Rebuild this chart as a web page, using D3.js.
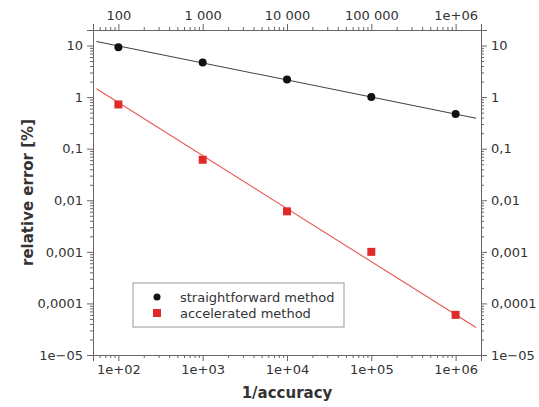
<!DOCTYPE html>
<html>
<head>
<meta charset="utf-8">
<script src="https://cdn.jsdelivr.net/npm/d3@7"></script>
<style>
  body { margin: 0; background: #fff; }
  svg text { font-family: "DejaVu Sans", sans-serif; fill: #333; }
</style>
</head>
<body>
<svg id="chart" width="539" height="407"></svg>
<script>
// data
const accuracy = [100, 1000, 10000, 100000, 1000000];
const straightErr = [9.3, 4.7, 2.2, 1.0, 0.47];
const accelErr = [0.72, 0.061, 0.0061, 0.001, 0.00006];

// fitted lines, endpoints only (straight in log-log)
const fitX = [55, 1.75e6];
const straightFit = [12, 0.39];
const accelFit = [1.45, 3.4e-5];

const yTickVals = [10, 1, 0.1, 0.01, 0.001, 0.0001, 0.00001];
const yTickLabels = ['10', '1', '0,1', '0,01', '0,001', '0,0001', '1e\u221205'];
const topTickLabels = ['100', '1 000', '10 000', '100 000', '1e+06'];
const bottomTickLabels = ['1e+02', '1e+03', '1e+04', '1e+05', '1e+06'];

const seriesNames = ['straightforward method', 'accelerated method'];

const W = 539, H = 407;
const m = { left: 93, right: 539 - 481, top: 30, bottom: 407 - 355 };

const svg = d3.select('#chart');

const x = d3.scaleLog().domain([50, 2e6]).range([m.left, W - m.right]);
const y = d3.scaleLog().domain([1e-5, 20]).range([H - m.bottom, m.top]);

// minor tick positions 2..9 per decade
function minors(domain) {
  const out = [];
  const lo = Math.floor(Math.log10(domain[0])), hi = Math.ceil(Math.log10(domain[1]));
  for (let e = lo; e <= hi; e++) {
    for (let k = 2; k <= 9; k++) {
      const v = k * Math.pow(10, e);
      if (v >= domain[0] && v <= domain[1]) out.push(v);
    }
  }
  return out;
}

const axisColor = '#666';

function styleAxis(g) {
  g.select('.domain').attr('stroke', axisColor);
  g.selectAll('.tick line').attr('stroke', axisColor);
  g.selectAll('.tick text').attr('font-size', 13).attr('fill', '#333');
}

function drawAxis(axisFn, scale, majors, labels, transform) {
  const g = svg.append('g').attr('transform', transform);
  g.call(axisFn(scale).tickValues(minors(scale.domain())).tickSize(3).tickFormat(''));
  g.select('.domain').remove();
  g.selectAll('.tick line').attr('stroke', axisColor);
  const g2 = svg.append('g').attr('transform', transform);
  g2.call(axisFn(scale).tickValues(majors).tickSize(6).tickPadding(4)
    .tickFormat((d, i) => labels[i]));
  styleAxis(g2);
  return g2;
}

drawAxis(d3.axisBottom, x, accuracy, bottomTickLabels, `translate(0,${H - m.bottom})`);
drawAxis(d3.axisTop, x, accuracy, topTickLabels, `translate(0,${m.top})`);
drawAxis(d3.axisLeft, y, yTickVals, yTickLabels, `translate(${m.left},0)`);
drawAxis(d3.axisRight, y, yTickVals, yTickLabels, `translate(${W - m.right},0)`);

// axis titles
svg.append('text')
  .attr('x', (m.left + W - m.right) / 2).attr('y', 398)
  .attr('text-anchor', 'middle')
  .attr('font-size', 15).attr('font-weight', 'bold').attr('fill', '#222')
  .text('1/accuracy');

svg.append('text')
  .attr('transform', `translate(33,${(m.top + H - m.bottom) / 2}) rotate(-90)`)
  .attr('text-anchor', 'middle')
  .attr('font-size', 15).attr('font-weight', 'bold').attr('fill', '#222')
  .text('relative error [%]');

// fit lines
const line = d3.line().x(d => x(d[0])).y(d => y(d[1]));
svg.append('path')
  .attr('d', line(fitX.map((v, i) => [v, straightFit[i]])))
  .attr('fill', 'none').attr('stroke', '#444').attr('stroke-width', 1.1);
svg.append('path')
  .attr('d', line(fitX.map((v, i) => [v, accelFit[i]])))
  .attr('fill', 'none').attr('stroke', '#e85555').attr('stroke-width', 1.1);

// markers
svg.append('g').selectAll('circle')
  .data(accuracy.map((v, i) => [v, straightErr[i]]))
  .join('circle')
  .attr('cx', d => x(d[0])).attr('cy', d => y(d[1]))
  .attr('r', 4).attr('fill', '#111');

const sq = 8;
svg.append('g').selectAll('rect')
  .data(accuracy.map((v, i) => [v, accelErr[i]]))
  .join('rect')
  .attr('x', d => x(d[0]) - sq / 2).attr('y', d => y(d[1]) - sq / 2)
  .attr('width', sq).attr('height', sq)
  .attr('fill', '#e02a2a');

// legend
const lg = svg.append('g').attr('transform', 'translate(133,283)');
lg.append('rect')
  .attr('width', 211).attr('height', 44)
  .attr('fill', '#fff').attr('stroke', '#999').attr('stroke-width', 1);
lg.append('circle').attr('cx', 24).attr('cy', 14).attr('r', 3.5).attr('fill', '#111');
lg.append('rect').attr('x', 20).attr('y', 26).attr('width', 8).attr('height', 8).attr('fill', '#e02a2a');
lg.selectAll('text.lbl')
  .data(seriesNames)
  .join('text')
  .attr('class', 'lbl')
  .attr('x', 47).attr('y', (d, i) => 14 + i * 16)
  .attr('dy', '0.35em')
  .attr('font-size', 13)
  .text(d => d);
</script>
</body>
</html>
